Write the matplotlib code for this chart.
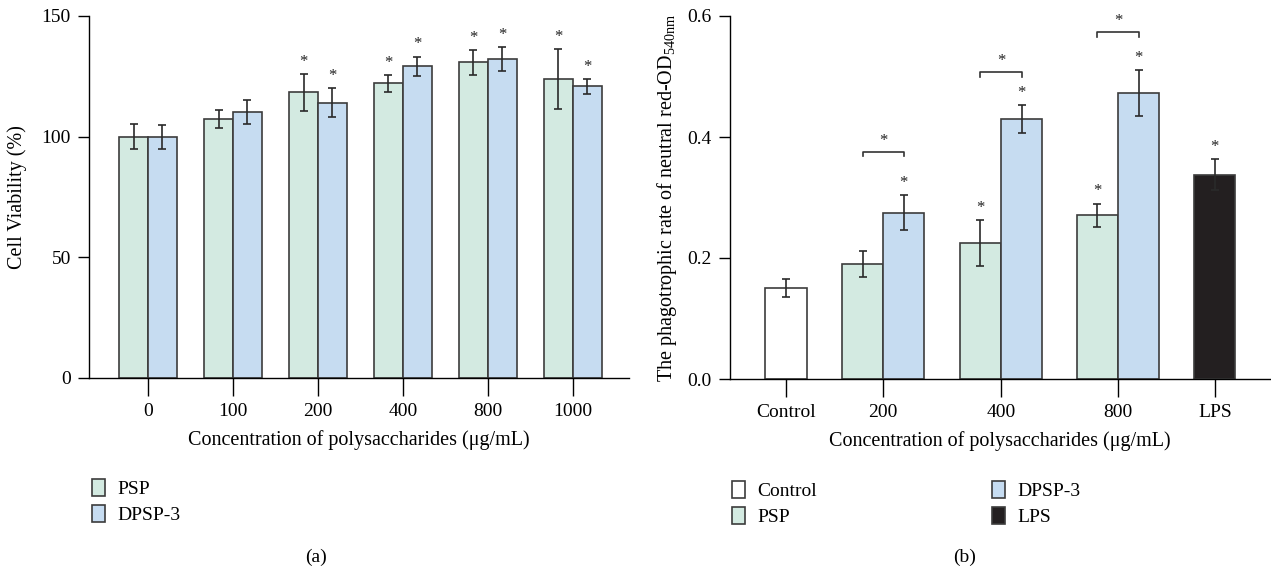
import matplotlib
matplotlib.use("Agg")
import matplotlib.pyplot as plt
from matplotlib.patches import Patch
import numpy as np

plt.rcParams['font.family'] = ['Liberation Serif', 'DejaVu Serif']
plt.rcParams['mathtext.fontset'] = 'custom'
plt.rcParams['mathtext.rm'] = 'Liberation Serif'

# ---------------- data: panel (a) ----------------
conc_a = ["0", "100", "200", "400", "800", "1000"]
psp_a = [100.0, 107.2, 118.4, 122.1, 130.8, 123.9]
psp_a_err = [5.1, 3.7, 7.7, 3.4, 5.2, 12.5]
dpsp_a = [100.0, 110.1, 114.0, 129.2, 132.1, 120.9]
dpsp_a_err = [5.0, 5.0, 6.0, 4.0, 5.0, 3.1]
psp_a_sig = [False, False, True, True, True, True]
dpsp_a_sig = [False, False, True, True, True, True]

# ---------------- data: panel (b) ----------------
cats_b = ["Control", "200", "400", "800", "LPS"]
control_b = 0.150
control_b_err = 0.015
psp_b = [0.190, 0.225, 0.271]
psp_b_err = [0.021, 0.038, 0.019]
dpsp_b = [0.275, 0.430, 0.473]
dpsp_b_err = [0.029, 0.023, 0.038]
lps_b = 0.338
lps_b_err = 0.026
psp_b_sig = [False, True, True]
dpsp_b_sig = [True, True, True]
bracket_b = [0.376, 0.508, 0.574]

GREEN = "#d3eae1"
BLUE = "#c6dcf1"
BLACK = "#231f20"
EDGE = "#3c3c3c"
ERR = "#2a2a2a"

fig = plt.figure(figsize=(12.71, 5.76), dpi=100)
W, H = 1271, 576
axA = fig.add_axes([89 / W, (H - 378) / H, 540 / W, 362 / H])
axB = fig.add_axes([730 / W, (H - 379) / H, 540 / W, 363 / H])

bar_kw = dict(edgecolor=EDGE, linewidth=1.2, zorder=2)
err_kw = dict(ecolor=ERR, elinewidth=1.2, capsize=3.2, capthick=1.2)
TICKFS = 14
LABELFS = 14.5
LEGFS = 14


def star(ax, x, y, dy=6):
    ax.annotate("*", (x, y), xytext=(0, dy), textcoords="offset points",
                ha="center", va="bottom", fontsize=12, color="#222222")


# ---------------- panel (a) ----------------
xa = np.arange(len(conc_a))
w = 0.34
axA.bar(xa - w / 2, psp_a, w, color=GREEN, yerr=psp_a_err, error_kw=err_kw, **bar_kw)
axA.bar(xa + w / 2, dpsp_a, w, color=BLUE, yerr=dpsp_a_err, error_kw=err_kw, **bar_kw)
for i in range(len(xa)):
    if psp_a_sig[i]:
        star(axA, xa[i] - w / 2, psp_a[i] + psp_a_err[i], dy=3)
    if dpsp_a_sig[i]:
        star(axA, xa[i] + w / 2, dpsp_a[i] + dpsp_a_err[i], dy=3)
axA.set_xlim(-0.694, 5.66)
axA.set_ylim(0, 150)
axA.set_yticks([0, 50, 100, 150])
axA.set_xticks(xa)
axA.set_xticklabels(conc_a)
axA.set_ylabel("Cell Viability (%)", fontsize=LABELFS)
axA.set_xlabel("Concentration of polysaccharides (μg/mL)", fontsize=LABELFS, labelpad=7)

# ---------------- panel (b) ----------------
xb = np.array([0.0, 0.826, 1.83, 2.826, 3.65])
wb = 0.35
axB.bar(xb[0], control_b, wb, color="white", yerr=control_b_err, error_kw=err_kw, **bar_kw)
axB.bar(xb[1:4] - wb / 2, psp_b, wb, color=GREEN, yerr=psp_b_err, error_kw=err_kw, **bar_kw)
axB.bar(xb[1:4] + wb / 2, dpsp_b, wb, color=BLUE, yerr=dpsp_b_err, error_kw=err_kw, **bar_kw)
axB.bar(xb[4], lps_b, wb, color=BLACK, yerr=lps_b_err, error_kw=err_kw, **bar_kw)
for i in range(3):
    xc = xb[i + 1]
    if psp_b_sig[i]:
        star(axB, xc - wb / 2, psp_b[i] + psp_b_err[i], dy=3)
    if dpsp_b_sig[i]:
        star(axB, xc + wb / 2, dpsp_b[i] + dpsp_b_err[i], dy=3)
    hb = bracket_b[i]
    axB.plot([xc - wb / 2, xc - wb / 2, xc + wb / 2, xc + wb / 2],
             [hb - 0.008, hb, hb, hb - 0.008], color="#333333", lw=1.2)
    star(axB, xc, hb, dy=2)
star(axB, xb[4], lps_b + lps_b_err, dy=3)
axB.set_xlim(-0.477, 4.12)
axB.set_ylim(0, 0.6)
axB.set_yticks([0.0, 0.2, 0.4, 0.6])
axB.set_yticklabels(["0.0", "0.2", "0.4", "0.6"])
axB.set_xticks(xb)
axB.set_xticklabels(cats_b)
axB.set_ylabel(r"The phagotrophic rate of neutral red-OD$_{\mathrm{540nm}}$", fontsize=LABELFS)
axB.set_xlabel("Concentration of polysaccharides (μg/mL)", fontsize=LABELFS, labelpad=7)

for ax in (axA, axB):
    for s in ("top", "right"):
        ax.spines[s].set_visible(False)
    ax.spines["left"].set_linewidth(1.0)
    ax.spines["bottom"].set_linewidth(1.0)
    ax.tick_params(axis="y", direction="out", length=8, width=1, labelsize=TICKFS, pad=5)
    ax.tick_params(axis="x", direction="out", length=13, width=1, labelsize=TICKFS, pad=5)

# y-label centres (axes fraction)
axA.yaxis.label.set_va("center")
axA.yaxis.set_label_coords((17 - 89) / 540, 0.5)
axB.yaxis.label.set_va("center")
axB.yaxis.set_label_coords((667 - 730) / 540, 0.5)

# ---------------- legends ----------------
def patch(c):
    return Patch(facecolor=c, edgecolor=EDGE, linewidth=1.2)

legA = fig.legend([patch(GREEN), patch(BLUE)], ["PSP", "DPSP-3"],
                  loc="upper left", bbox_to_anchor=(84 / W, 1 - 471 / H),
                  frameon=False, fontsize=LEGFS, handlelength=0.7, handleheight=1.0,
                  handletextpad=0.6, labelspacing=0.35, borderaxespad=0)
legB = fig.legend([patch("white"), patch(GREEN), patch(BLUE), patch(BLACK)],
                  ["Control", "PSP", "DPSP-3", "LPS"], ncol=2,
                  loc="upper left", bbox_to_anchor=(724 / W, 1 - 473 / H),
                  frameon=False, fontsize=LEGFS, handlelength=0.7, handleheight=1.0,
                  handletextpad=0.6, labelspacing=0.35, columnspacing=9.0, borderaxespad=0)

fig.text(316 / W, 1 - 557 / H, "(a)", ha="center", va="center", fontsize=LEGFS)
fig.text(965 / W, 1 - 557 / H, "(b)", ha="center", va="center", fontsize=LEGFS)

fig.savefig("out.png", dpi=100)
